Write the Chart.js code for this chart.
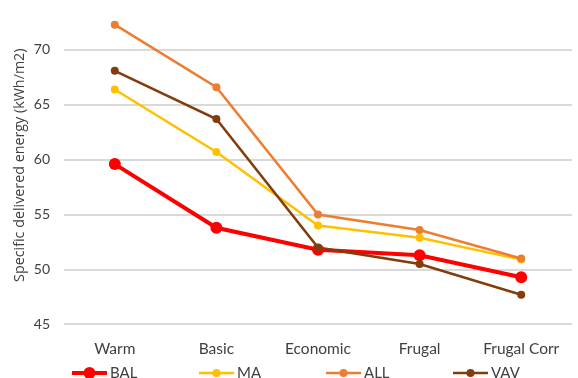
<!DOCTYPE html>
<html>
<head>
<meta charset="utf-8">
<script src="https://cdn.jsdelivr.net/npm/chart.js@4"></script>
<style>
  html, body { margin: 0; padding: 0; background: #fff; }
  #wrap { width: 578px; height: 378px; }
</style>
</head>
<body>
<div id="wrap"><canvas id="energyChart"></canvas></div>
<script>
const categories = ['Warm', 'Basic', 'Economic', 'Frugal', 'Frugal Corr'];
const balValues = [59.6, 53.8, 51.8, 51.3, 49.3];
const maValues = [66.4, 60.7, 54.0, 52.9, 50.9];
const allValues = [72.3, 66.6, 55.0, 53.6, 51.0];
const vavValues = [68.1, 63.7, 52.0, 50.5, 47.7];
const yTicks = [45, 50, 55, 60, 65, 70];

const FONT = 'Lato, "Open Sans", sans-serif';
const TEXT = '#404040';

// Excel-style legend: short line with a dot in the middle, then the name
const lineLegend = {
  id: 'lineLegend',
  afterDraw(chart) {
    const ctx = chart.ctx;
    const y = 373;
    const startX = 72;
    const step = 127;
    const lineLen = 35;
    ctx.save();
    ctx.font = '15px ' + FONT;
    ctx.textBaseline = 'middle';
    chart.data.datasets.forEach((ds, i) => {
      const x = startX + i * step;
      ctx.strokeStyle = ds.borderColor;
      ctx.lineWidth = ds.borderWidth;
      ctx.beginPath();
      ctx.moveTo(x, y);
      ctx.lineTo(x + lineLen, y);
      ctx.stroke();
      ctx.fillStyle = ds.borderColor;
      ctx.beginPath();
      ctx.arc(x + lineLen / 2, y, ds.pointRadius, 0, Math.PI * 2);
      ctx.fill();
      ctx.fillStyle = TEXT;
      ctx.fillText(ds.label, x + lineLen + 3, y);
    });
    ctx.restore();
  }
};

function series(label, data, color, width, radius, order) {
  return {
    label: label,
    data: data,
    borderColor: color,
    backgroundColor: color,
    borderWidth: width,
    pointRadius: radius,
    pointHoverRadius: radius,
    pointBorderWidth: 0,
    tension: 0,
    order: order
  };
}

const ctx = document.getElementById('energyChart').getContext('2d');
new Chart(ctx, {
  type: 'line',
  data: {
    labels: categories,
    datasets: [
      series('BAL', balValues, '#ff0000', 4, 6, 4),
      series('MA', maValues, '#ffc000', 2.5, 4, 3),
      series('ALL', allValues, '#ed7d31', 2.5, 4, 2),
      series('VAV', vavValues, '#843c0c', 2.5, 4, 1)
    ]
  },
  options: {
    responsive: true,
    maintainAspectRatio: false,
    animation: false,
    layout: { padding: { top: 2, right: 0, bottom: 5, left: 11 } },
    plugins: {
      legend: { display: false },
      tooltip: { enabled: false }
    },
    scales: {
      x: {
        offset: true,
        grid: { display: false, drawTicks: false },
        border: { display: false },
        ticks: { color: TEXT, font: { family: FONT, size: 15.5 }, padding: 15 }
      },
      y: {
        min: 45,
        max: 74,
        afterBuildTicks(scale) {
          scale.ticks = yTicks.map(v => ({ value: v }));
        },
        afterFit(scale) {
          scale.width = 53;
          scale.paddingTop = 0;
          scale.paddingBottom = 0;
        },
        grid: { color: '#d9d9d9', lineWidth: 2, drawTicks: false },
        border: { display: false },
        ticks: { color: TEXT, font: { family: FONT, size: 14 }, padding: 14 },
        title: {
          display: true,
          text: 'Specific delivered energy (kWh/m2)',
          color: TEXT,
          font: { family: '"Open Sans", sans-serif', size: 14.3 },
          padding: 0
        }
      }
    }
  },
  plugins: [lineLegend]
});
</script>
</body>
</html>
